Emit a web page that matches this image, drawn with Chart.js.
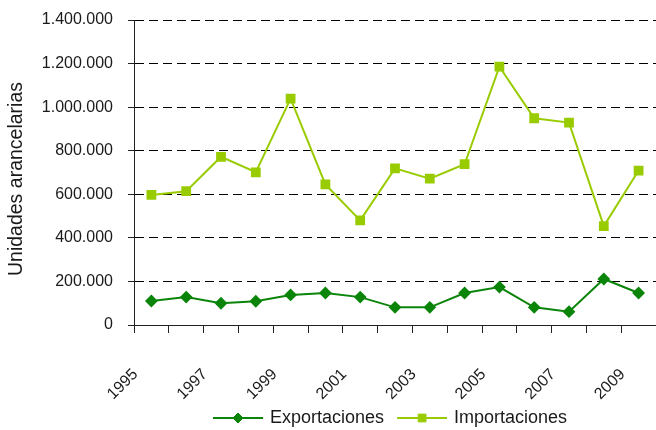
<!DOCTYPE html>
<html>
<head>
<meta charset="utf-8">
<script src="https://cdn.jsdelivr.net/npm/chart.js@4.4.1/dist/chart.umd.min.js"></script>
<style>
  html, body { margin: 0; padding: 0; background: #ffffff; }
  #wrap { width: 656px; height: 430px; }
</style>
</head>
<body>
<div id="wrap"><canvas id="c" width="656" height="430"></canvas></div>
<script>
const years = ['1995','1996','1997','1998','1999','2000','2001','2002','2003','2004','2005','2006','2007','2008','2009'];
const exportaciones = [110000,128000,100000,109000,138000,147000,128000,81000,81000,147000,174000,81000,61000,211000,147000];
const importaciones = [597000,614000,772000,701000,1039000,645000,480000,719000,672000,738000,1186000,949000,929000,454000,709000];
const yTicks = { min: 0, max: 1400000, step: 200000 };
const yTitle = 'Unidades arancelarias';

const FONT = "'Liberation Sans', Arial, sans-serif";
const COL_EXP = '#0a850a';
const COL_IMP = '#99cc00';

function fmt(v) {
  return String(v).replace(/\B(?=(\d{3})+(?!\d))/g, '.');
}

const legendPlugin = {
  id: 'customLegend',
  afterDraw(chart) {
    const ctx = chart.ctx;
    ctx.save();
    // y axis title
    ctx.font = '19.5px ' + FONT;
    ctx.fillStyle = '#1a1a1a';
    ctx.textAlign = 'center';
    ctx.textBaseline = 'middle';
    ctx.translate(17, 179);
    ctx.rotate(-Math.PI / 2);
    ctx.fillText(yTitle, 0, 0);
    ctx.restore();

    ctx.save();
    ctx.font = '18px ' + FONT;
    ctx.textBaseline = 'middle';
    const lineW = 50, gapText = 7, gapItems = 13;
    let x = 213;
    const y = 418;
    chart.data.datasets.forEach((ds) => {
      const tw = ctx.measureText(ds.label).width;
      ctx.strokeStyle = ds.borderColor;
      ctx.lineWidth = 2;
      ctx.beginPath();
      ctx.moveTo(x, y);
      ctx.lineTo(x + lineW, y);
      ctx.stroke();
      ctx.fillStyle = ds.pointBackgroundColor;
      ctx.strokeStyle = ds.pointBorderColor;
      ctx.lineWidth = 1;
      Chart.helpers.drawPoint(ctx, { pointStyle: ds.pointStyle, radius: ds.pointRadius, rotation: 0, borderWidth: 1 }, x + lineW / 2, y);
      ctx.fillStyle = '#1a1a1a';
      ctx.textAlign = 'left';
      ctx.fillText(ds.label, x + lineW + gapText, y);
      x += lineW + gapText + tw + gapItems;
    });
    ctx.restore();
  }
};

new Chart(document.getElementById('c'), {
  type: 'line',
  data: {
    labels: years,
    datasets: [
      {
        label: 'Exportaciones',
        data: exportaciones,
        borderColor: COL_EXP,
        backgroundColor: COL_EXP,
        pointBackgroundColor: COL_EXP,
        pointBorderColor: COL_EXP,
        pointStyle: 'rectRot',
        pointRadius: 5,
        borderWidth: 2,
        tension: 0
      },
      {
        label: 'Importaciones',
        data: importaciones,
        borderColor: COL_IMP,
        backgroundColor: COL_IMP,
        pointBackgroundColor: COL_IMP,
        pointBorderColor: COL_IMP,
        pointStyle: 'rect',
        pointRadius: 5.5,
        borderWidth: 2,
        tension: 0
      }
    ]
  },
  options: {
    responsive: false,
    animation: false,
    devicePixelRatio: 1,
    layout: { autoPadding: false, padding: { top: 20, right: 0, left: 0, bottom: 0 } },
    plugins: {
      legend: { display: false },
      tooltip: { enabled: false }
    },
    scales: {
      x: {
        type: 'category',
        offset: true,
        afterFit(scale) { scale.height = 105; scale.paddingLeft = 0; scale.paddingRight = 0; },
        border: { display: true, color: '#222', width: 1 },
        grid: { display: true, offset: true, drawOnChartArea: false, drawTicks: true, tickLength: 8, color: '#222', lineWidth: 1 },
        ticks: {
          autoSkip: false,
          maxRotation: 45,
          minRotation: 45,
          padding: 32,
          labelOffset: -16,
          color: '#1a1a1a',
          font: { family: FONT, size: 16 },
          callback(value, index) { return index % 2 === 0 ? this.getLabelForValue(value) : ''; }
        }
      },
      y: {
        min: yTicks.min,
        max: yTicks.max,
        afterFit(scale) { scale.width = 134; scale.paddingTop = 0; scale.paddingBottom = 0; },
        border: { display: true, color: '#222', width: 1, dash: [9, 5] },
        grid: { color: '#000', lineWidth: 1, tickLength: 6, tickColor: '#222', tickBorderDash: [] },
        ticks: {
          stepSize: yTicks.step,
          padding: 15,
          color: '#1a1a1a',
          font: { family: FONT, size: 16 },
          callback(v) { return fmt(v); }
        },
        title: { display: false }
      }
    }
  },
  plugins: [legendPlugin]
});
</script>
</body>
</html>
